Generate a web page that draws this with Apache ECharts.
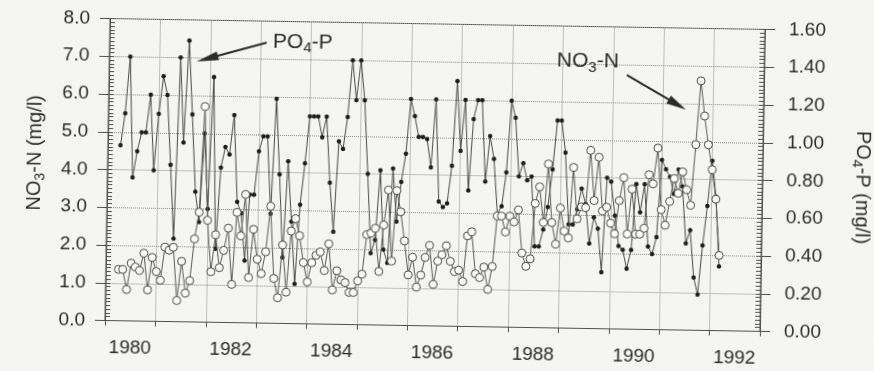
<!DOCTYPE html>
<html><head><meta charset="utf-8">
<script src="https://cdn.jsdelivr.net/npm/echarts@6/dist/echarts.min.js"></script>
<style>
html,body{margin:0;padding:0;background:#f5f5f3;overflow:hidden;}
#chart{width:874px;height:371px;transform:rotate(0.95deg);transform-origin:105px 320.5px;}
</style></head><body><div id="chart"></div>
<script>
// Monthly samples; month index counted from January 1980 (0). First sample: April 1980.
const startMonth = 3;
const yearLabels = ['1980','','1982','','1984','','1986','','1988','','1990','','1992'];
const leftTicks = [0,1,2,3,4,5,6,7,8];
const rightTicks = [0,0.2,0.4,0.6,0.8,1.0,1.2,1.4,1.6];

// NO3-N (mg/l), open circles, left axis
const no3 = [
 1.36,1.36,0.83,1.53,1.43,1.34,1.80,0.83,1.69,1.32,1.09,1.97,1.89,1.97,0.56,1.60,0.76,1.09,2.20,2.91,
 5.71,2.70,1.34,2.32,1.45,1.91,2.50,1.01,2.92,2.30,3.40,1.20,2.48,1.69,1.31,1.89,3.10,1.19,0.68,2.08,0.83,2.45,
 2.78,2.33,1.62,1.11,1.62,1.82,1.91,1.42,2.13,0.91,1.42,1.18,1.11,0.85,0.85,1.16,1.34,2.39,2.43,2.56,1.42,2.65,3.58,1.70,3.57,3.01,
 2.24,1.34,1.81,1.02,1.34,1.81,2.13,1.10,1.72,1.89,2.13,1.72,1.45,1.49,1.19,2.40,2.51,1.40,1.30,1.58,0.99,1.60,
 2.94,2.94,2.52,2.94,2.79,3.11,1.97,1.62,1.82,3.29,3.73,2.79,4.34,2.79,2.22,3.18,2.57,2.39,4.26,2.90,
 3.22,3.20,4.72,3.39,4.54,3.12,3.22,2.80,2.52,3.40,4.01,2.52,3.71,2.52,2.52,2.68,4.10,3.86,4.81,3.18,2.77,3.40,4.01,
 3.62,4.19,3.72,3.31,4.92,6.61,5.68,4.92,4.26,3.48,1.99
];
// PO4-P (mg/l), filled dots, right axis
const po4 = [
 0.93,1.10,1.40,0.76,0.90,1.00,1.00,1.20,0.80,1.10,1.30,1.20,0.83,0.44,1.40,0.95,1.49,1.10,0.69,0.53,
 1.00,0.60,1.30,0.39,0.82,0.93,0.89,1.10,0.64,0.58,0.33,0.68,0.68,0.91,0.99,0.99,0.58,1.19,0.79,0.35,0.86,0.54,0.21,
 0.63,0.85,1.10,1.10,1.10,0.99,1.10,0.75,0.49,0.97,0.93,1.10,1.40,1.19,1.40,1.19,0.80,0.38,0.45,0.82,0.40,0.33,
 0.83,0.55,0.76,0.91,1.20,1.11,1.00,1.00,0.99,0.84,1.20,0.66,0.63,0.65,0.85,1.30,0.93,1.20,0.72,1.10,1.20,1.20,0.77,
 1.01,0.89,0.60,0.64,0.82,1.20,1.11,0.80,0.87,0.78,0.80,0.43,0.43,0.52,0.64,0.84,1.10,1.10,0.93,
 0.55,0.55,0.63,0.74,0.66,0.45,0.59,0.53,0.30,0.80,0.78,0.60,0.44,0.42,0.32,0.42,0.77,0.62,0.77,0.44,0.40,0.49,0.90,0.85,0.81,
 0.72,0.85,0.76,0.46,0.53,0.28,0.19,0.45,0.66,0.90,0.71,0.34
];

// Annotation anchors in data units: [month index, NO3-N scale]
const po4Label = [38.9, 7.45];
const po4Arrow = {from:[37.4, 7.43], to:[20.8, 6.90]};
const no3Label = [106.6, 7.07];
const no3Arrow = {from:[123.3, 6.73], to:[137.5, 5.84]};

const FONT = '"Liberation Sans", Arial, Helvetica, sans-serif';
const INK = '#2b2b2b';
const AX = '#505050';
const months = no3.map((_, i) => startMonth + i);

const chart = echarts.init(document.getElementById('chart'), null, {renderer:'canvas'});

function yAx(min, max, interval, pos, fmt, margin, majorOnly){
  if (majorOnly) {
    return {type:'value', min, max, interval, position:pos,
      axisLine:{show:true, lineStyle:{color:AX, width:1}},
      axisTick:{show:true, length:10, lineStyle:{color:AX}},
      minorTick:{show:false},
      axisLabel:{formatter:fmt, fontSize:19, fontFamily:FONT, color:INK, margin},
      splitLine:pos==='left' ? {show:true, lineStyle:{type:'dotted', color:'#888', width:1}} : {show:false}};
  }
  // overlay axis carrying the inward minor ticks only
  return {type:'value', min, max, interval, position:pos,
    axisLine:{show:false},
    axisTick:{show:true, inside:true, length:5, lineStyle:{color:AX}},
    minorTick:{show:true, splitNumber:10, length:5, lineStyle:{color:AX}},
    axisLabel:{show:false}, splitLine:{show:false}};
}

const option = {
  backgroundColor: '#f5f5f3',
  animation: false,
  grid: {left:105, top:18.5, width:655, height:302, show:true, borderColor:AX, borderWidth:1,
         backgroundColor:'transparent', containLabel:false, outerBoundsMode:'none'},
  xAxis: [
    {type:'value', min:0, max:156, interval:12,
     axisLine:{show:true, lineStyle:{color:AX, width:1}},
     axisTick:{show:true, length:5, lineStyle:{color:AX}},
     axisLabel:{show:false},
     splitLine:{show:true, lineStyle:{type:'dotted', color:'#888', width:1}}},
    {type:'category', data:yearLabels, boundaryGap:true, position:'bottom',
     axisLine:{show:false}, axisTick:{show:false}, splitLine:{show:false},
     axisLabel:{interval:0, fontSize:19, fontFamily:FONT, color:INK, margin:18}}
  ],
  yAxis: [
    yAx(leftTicks[0], leftTicks[leftTicks.length-1], 1, 'left', v=>v.toFixed(1), 20, true),
    yAx(rightTicks[0], rightTicks[rightTicks.length-1], 0.2, 'right', v=>v.toFixed(2), 24, true),
    yAx(leftTicks[0], leftTicks[leftTicks.length-1], 1, 'left', null, 0, false),
    yAx(rightTicks[0], rightTicks[rightTicks.length-1], 0.2, 'right', null, 0, false)
  ],
  series: [
    {name:'PO4-P', type:'line', xAxisIndex:0, yAxisIndex:1,
     data: months.map((m,i)=>[m, po4[i]]),
     symbol:'circle', symbolSize:4.5, showAllSymbol:true,
     itemStyle:{color:'#1e1e1e'}, lineStyle:{color:'#4a4a4a', width:1}, z:2},
    {name:'NO3-N', type:'line', xAxisIndex:0, yAxisIndex:0,
     data: months.map((m,i)=>[m, no3[i]]),
     symbol:'circle', symbolSize:8, showAllSymbol:true,
     itemStyle:{color:'#fbfbfa', borderColor:'#4a4a4a', borderWidth:1}, lineStyle:{color:'#5a5a5a', width:1}, z:3}
  ]
};
chart.setOption(option);

function px(p){ return chart.convertToPixel({seriesIndex:1}, p); }
function arrow(a, headLen, headW, lw){
  const s = px(a.from), t = px(a.to);
  const dx = t[0]-s[0], dy = t[1]-s[1], len = Math.hypot(dx, dy);
  const ux = dx/len, uy = dy/len;
  const bx = t[0]-ux*headLen, by = t[1]-uy*headLen;
  return [
    {type:'line', z:10, shape:{x1:s[0], y1:s[1], x2:bx+ux*3, y2:by+uy*3}, style:{stroke:INK, lineWidth:lw}},
    {type:'polygon', z:10, shape:{points:[[t[0],t[1]],[bx-uy*headW/2, by+ux*headW/2],[bx+uy*headW/2, by-ux*headW/2]]}, style:{fill:INK}}
  ];
}
const big = {fontSize:21, fontFamily:FONT, fill:INK};
const sub = {fontSize:15, fontFamily:FONT, fill:INK, padding:[12,0,0,0]};
const tBig = {fontSize:20, fontFamily:FONT, fill:INK};
const tSub = {fontSize:14, fontFamily:FONT, fill:INK, padding:[12,0,0,0]};
const pl = px(po4Label), nl = px(no3Label);
chart.setOption({
  graphic: [
    {type:'text', z:10, x:pl[0], y:pl[1], style:{text:'{a|PO}{s|4}{a|-P}', rich:{a:big, s:sub}, align:'left', verticalAlign:'middle'}},
    {type:'text', z:10, x:nl[0], y:nl[1], style:{text:'{a|NO}{s|3}{a|-N}', rich:{a:big, s:sub}, align:'left', verticalAlign:'middle'}},
    ...arrow(po4Arrow, 22, 9, 2),
    ...arrow(no3Arrow, 20, 9, 2),
    {type:'text', z:10, x:32, y:154, rotation:Math.PI/2, style:{text:'{a|NO}{s|3}{a|-N (mg/l)}', rich:{a:tBig, s:tSub}, align:'center', verticalAlign:'middle'}},
    {type:'text', z:10, x:860, y:175, rotation:-Math.PI/2, style:{text:'{a|PO}{s|4}{a|-P (mg/l)}', rich:{a:tBig, s:tSub}, align:'center', verticalAlign:'middle'}}
  ]
});
</script></body></html>
